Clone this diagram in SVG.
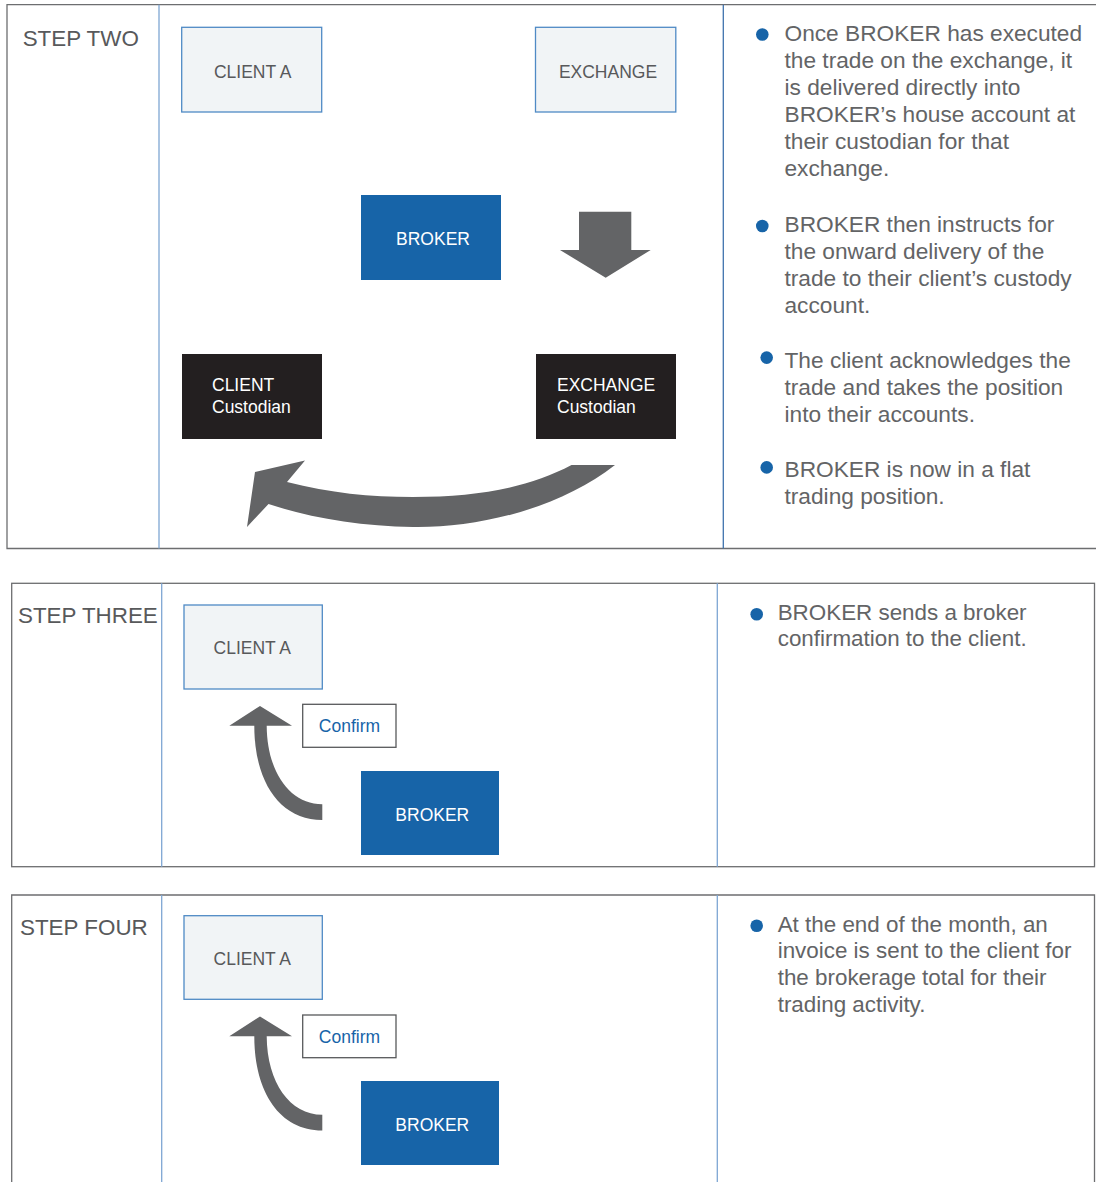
<svg xmlns="http://www.w3.org/2000/svg" width="1096" height="1182" viewBox="0 0 1096 1182">
<style>
text{font-family:"Liberation Sans",Arial,Helvetica,sans-serif}
.frame{fill:none;stroke:#6d6e70;stroke-width:1.3}
.div{stroke:#7ea6d3;stroke-width:1.3}
.divd{stroke:#3f72ad;stroke-width:1.3}
.light{fill:#f1f4f6;stroke:#4f8ac5;stroke-width:1.3}
.blue{fill:#1764a8}
.dark{fill:#231f20}
.lbl{font-size:17.5px;fill:#58595b}
.wlbl{font-size:17.5px;fill:#ffffff}
.step{font-size:22.4px;fill:#58595b}
.body{font-size:22.4px;fill:#636466}
.body2{font-size:22.7px;fill:#636466}
.dot{fill:#1764a8}
.conf{fill:#ffffff;stroke:#58595b;stroke-width:1.3}
.ctxt{font-size:17.5px;fill:#1764a8}
.arr{fill:#636466}
</style>

<!-- STEP TWO -->
<g id="step-two-frame">
<path class="frame" d="M1096,4.7 H7 V548.5 H1096"/>
<line class="div" x1="159" y1="4.7" x2="159" y2="548.5"/>
<line class="divd" x1="723.3" y1="4.7" x2="723.3" y2="548.5"/>
<text class="step" x="22.7" y="46">STEP TWO</text>
</g>
<g id="s2-client-a"><rect class="light" x="181.7" y="27.3" width="140" height="84.7"/><text class="lbl" x="252.7" y="77.5" text-anchor="middle">CLIENT A</text></g>
<g id="s2-exchange"><rect class="light" x="535.5" y="27.3" width="140.3" height="84.7"/><text class="lbl" x="608" y="77.5" text-anchor="middle">EXCHANGE</text></g>
<g id="s2-broker"><rect class="blue" x="361" y="195" width="140" height="85"/><text class="wlbl" x="433" y="244.5" text-anchor="middle">BROKER</text></g>
<g id="s2-client-custodian"><rect class="dark" x="182" y="354" width="140" height="85"/><text class="wlbl" x="212" y="390.5">CLIENT</text><text class="wlbl" x="212" y="413">Custodian</text></g>
<g id="s2-exchange-custodian"><rect class="dark" x="536" y="354" width="140" height="85"/><text class="wlbl" x="557" y="390.5">EXCHANGE</text><text class="wlbl" x="557" y="413">Custodian</text></g>
<g id="s2-notes">
<circle class="dot" cx="762.3" cy="34.5" r="6.3"/>
<text class="body2" x="784.5" y="40.5">Once BROKER has executed</text>
<text class="body2" x="784.5" y="67.5">the trade on the exchange, it</text>
<text class="body2" x="784.5" y="94.5">is delivered directly into</text>
<text class="body2" x="784.5" y="121.5">BROKER’s house account at</text>
<text class="body2" x="784.5" y="148.5">their custodian for that</text>
<text class="body2" x="784.5" y="175.5">exchange.</text>
<circle class="dot" cx="762.3" cy="226" r="6.3"/>
<text class="body2" x="784.5" y="232">BROKER then instructs for</text>
<text class="body2" x="784.5" y="259">the onward delivery of the</text>
<text class="body2" x="784.5" y="286">trade to their client’s custody</text>
<text class="body2" x="784.5" y="313">account.</text>
<circle class="dot" cx="766.7" cy="357.6" r="6.3"/>
<text class="body2" x="784.5" y="368">The client acknowledges the</text>
<text class="body2" x="784.5" y="395">trade and takes the position</text>
<text class="body2" x="784.5" y="422">into their accounts.</text>
<circle class="dot" cx="766.7" cy="467.4" r="6.3"/>
<text class="body2" x="784.5" y="477">BROKER is now in a flat</text>
<text class="body2" x="784.5" y="504">trading position.</text>
</g>

<!-- STEP THREE -->
<g id="step-three-frame">
<rect class="frame" x="11.7" y="583.3" width="1082.8" height="283.4"/>
<line class="div" x1="161.7" y1="583.3" x2="161.7" y2="866.7"/>
<line class="div" x1="717.3" y1="583.3" x2="717.3" y2="866.7"/>
<text class="step" x="18" y="623">STEP THREE</text>
</g>
<g id="s3-client-a"><rect class="light" x="184" y="605" width="138.3" height="84"/><text class="lbl" x="252.3" y="654.3" text-anchor="middle">CLIENT A</text></g>
<g id="s3-confirm"><rect class="conf" x="302.7" y="704.3" width="93.3" height="43"/><text class="ctxt" x="349.5" y="732.3" text-anchor="middle">Confirm</text></g>
<g id="s3-broker"><rect class="blue" x="361" y="771" width="138" height="84"/><text class="wlbl" x="432.3" y="820.5" text-anchor="middle">BROKER</text></g>
<g id="s3-notes">
<circle class="dot" cx="756.7" cy="614.3" r="6.3"/>
<text class="body" x="777.7" y="620">BROKER sends a broker</text>
<text class="body" x="777.7" y="646">confirmation to the client.</text>
</g>

<!-- STEP FOUR -->
<g id="step-four-frame">
<path class="frame" d="M11.7,1182 V895 H1094.5 V1182"/>
<line class="div" x1="161.7" y1="895" x2="161.7" y2="1182"/>
<line class="div" x1="717.3" y1="895" x2="717.3" y2="1182"/>
<text class="step" x="20" y="935">STEP FOUR</text>
</g>
<g id="s4-client-a"><rect class="light" x="184" y="915.7" width="138.3" height="83.6"/><text class="lbl" x="252.3" y="965" text-anchor="middle">CLIENT A</text></g>
<g id="s4-confirm"><rect class="conf" x="302.7" y="1015" width="93.3" height="42.7"/><text class="ctxt" x="349.5" y="1043" text-anchor="middle">Confirm</text></g>
<g id="s4-broker"><rect class="blue" x="361" y="1081" width="138" height="84"/><text class="wlbl" x="432.3" y="1131" text-anchor="middle">BROKER</text></g>
<g id="s4-notes">
<circle class="dot" cx="756.7" cy="925.7" r="6.3"/>
<text class="body" x="777.7" y="931.5">At the end of the month, an</text>
<text class="body" x="777.7" y="958.3">invoice is sent to the client for</text>
<text class="body" x="777.7" y="985.1">the brokerage total for their</text>
<text class="body" x="777.7" y="1011.9">trading activity.</text>
</g>

<!-- CONNECTORS -->
<g id="connectors">
<path class="arr" d="M579,211.7 H631.3 V250 H650.7 L605.7,277.7 L560,250 H579 Z"/>
<path class="arr" d="M615,465 C560,508 480,528 413,527 C360,526 310,518 268.5,504 L247,527 L255,472 L305,460.5 L287,482 C330,493 370,497 413,497 C480,497 530,487 571.5,465 Z"/>
<path class="arr" d="M229.3,725.7 L260,706 L292,725.7 L266.7,725.7 C267,772 290,804.3 322.3,804.3 L322.3,820 C280,820 254.3,782 254.3,725.7 Z"/>
<path class="arr" d="M229.3,1036.2 L260,1016.5 L292,1036.2 L266.7,1036.2 C267,1082.5 290,1114.8 322.3,1114.8 L322.3,1130.5 C280,1130.5 254.3,1092.5 254.3,1036.2 Z"/>
</g>
</svg>
